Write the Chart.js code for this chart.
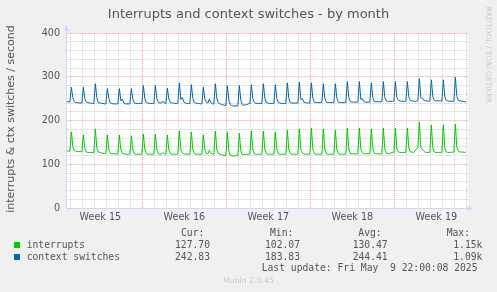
<!DOCTYPE html>
<html lang="en">
<head>
  <meta charset="UTF-8">
  <title>Interrupts and context switches - by month</title>
  <script src="https://cdn.jsdelivr.net/npm/chart.js"></script>
  <style>
    body { margin: 0; background: #f0f0f0; }
    #wrap { position: relative; width: 497px; height: 292px; background: #f0f0f0; overflow: hidden; }
    #wrap canvas { position: absolute; left: 0; top: 0; }
    .txt { position: absolute; white-space: pre; color: #555; font-family: 'DejaVu Sans', sans-serif; }
    .mono { font-family: 'DejaVu Sans Mono', monospace; font-size: 9.7px; line-height: 12px; }
    .box { position: absolute; width: 6px; height: 6px; }
  </style>
</head>
<body>
  <div id="wrap">
    <canvas id="chart" width="497" height="292"></canvas>
    <div class="txt" id="title" style="left:0; width:497px; text-align:center; top:5.6px; font-size:13px; line-height:16px;">Interrupts and context switches - by month</div>
    <div class="txt" id="ytitle" style="left:-139.2px; width:300px; top:112px; height:14px; text-align:center; font-size:11px; line-height:14px; transform:rotate(-90deg);">interrupts &amp; ctx switches / second</div>
    <div class="txt" id="rrd" style="left:338px; width:300px; top:50px; height:10px; text-align:center; font-size:7.5px; line-height:10px; color:#ccc; transform:rotate(90deg);">RRDTOOL / TOBI OETIKER</div>
    <div id="legend"></div>
    <div class="txt" style="left:0; width:497px; text-align:center; top:275.5px; font-size:7.8px; line-height:10px; color:#ccc;">Munin 2.0.45</div>
  </div>
  <script>
    // one row per day, 3-hourly samples (01:00 ... 22:00 style steps), spike around 02:00
    const interruptsRows = [
      [131, 130, 130, 174, 140, 131, 130, 129],
      [129, 129, 128, 167, 136, 128, 127, 127],
      [127, 127, 126, 181, 137, 128, 127, 126],
      [125, 125, 124, 167, 133, 125, 124, 124],
      [124, 124, 123, 167, 133, 125, 124, 123],
      [123, 123, 123, 165, 132, 124, 123, 123],
      [123, 123, 123, 169, 133, 124, 123, 123],
      [123, 123, 123, 169, 133, 124, 123, 123],
      [127, 124, 123, 167, 132, 124, 123, 123],
      [123, 123, 123, 176, 134, 126, 124, 123],
      [123, 123, 123, 174, 133, 124, 123, 123],
      [123, 123, 123, 167, 132, 124, 124, 132],
      [126, 123, 123, 176, 133, 124, 123, 122],
      [121, 120, 119, 174, 130, 121, 119, 119],
      [119, 120, 119, 171, 130, 122, 122, 122],
      [123, 123, 123, 176, 133, 124, 123, 123],
      [123, 123, 123, 176, 133, 124, 123, 123],
      [123, 123, 123, 174, 133, 124, 123, 123],
      [123, 123, 123, 178, 133, 124, 123, 123],
      [123, 123, 123, 181, 133, 126, 124, 123],
      [123, 123, 123, 183, 134, 124, 123, 123],
      [123, 123, 123, 181, 134, 124, 123, 123],
      [123, 123, 123, 178, 133, 124, 123, 123],
      [123, 123, 123, 183, 134, 124, 124, 124],
      [124, 124, 124, 183, 134, 126, 124, 124],
      [124, 124, 124, 181, 134, 125, 124, 124],
      [124, 124, 124, 183, 134, 125, 124, 124],
      [126, 127, 127, 183, 137, 128, 127, 127],
      [127, 127, 127, 183, 137, 128, 128, 127],
      [130, 134, 138, 197, 139, 134, 130, 127],
      [127, 127, 127, 190, 137, 128, 127, 127],
      [127, 127, 127, 190, 137, 128, 127, 127],
      [127, 128, 127, 192, 138, 130, 128, 128],
      [128, 127, 127.7]
    ];

    const ctxSwitchRows = [
      [244, 243, 242, 276, 252, 243, 241, 241],
      [240, 240, 240, 276, 250, 242, 241, 240],
      [240, 239, 239, 284, 252, 241, 240, 239],
      [239, 238, 238, 273, 250, 240, 239, 238],
      [238, 238, 238, 273, 245, 249, 240, 238],
      [238, 238, 238, 273, 249, 240, 239, 239],
      [239, 239, 239, 280, 250, 241, 240, 239],
      [239, 239, 239, 280, 251, 241, 240, 240],
      [244, 240, 239, 274, 249, 241, 240, 240],
      [239, 239, 239, 286, 248, 253, 242, 240],
      [239, 239, 239, 282, 250, 241, 240, 239],
      [239, 238, 238, 276, 249, 242, 240, 249],
      [241, 238, 238, 284, 250, 240, 238, 237],
      [236, 235, 234, 280, 246, 236, 234, 233],
      [233, 234, 233, 280, 246, 236, 235, 236],
      [236, 238, 239, 282, 250, 241, 239, 239],
      [239, 239, 239, 284, 251, 241, 240, 239],
      [239, 239, 239, 282, 250, 241, 240, 239],
      [239, 239, 239, 286, 250, 241, 240, 240],
      [240, 240, 240, 288, 248, 250, 242, 241],
      [240, 240, 240, 286, 251, 242, 241, 241],
      [241, 241, 241, 284, 251, 242, 241, 241],
      [241, 241, 241, 284, 251, 242, 241, 241],
      [241, 241, 241, 289, 252, 243, 242, 242],
      [242, 242, 242, 289, 248, 250, 243, 242],
      [242, 242, 242, 286, 252, 243, 243, 243],
      [243, 243, 243, 289, 252, 245, 244, 244],
      [244, 244, 244, 289, 253, 246, 245, 244],
      [244, 244, 244, 289, 253, 246, 245, 244],
      [244, 244, 245, 296, 252, 251, 246, 245],
      [245, 244, 244, 293, 254, 246, 245, 245],
      [245, 245, 244, 293, 254, 246, 245, 244],
      [244, 244, 244, 299, 255, 246, 245, 244],
      [244, 243, 242.83]
    ];

    // time axis in hours, 0 = start of week 15
    const firstSampleHour = 17;
    const sampleStepHours = 3;
    const xMinHour = 16.3;
    const xMaxHour = 818.3;

    const weekLabels = ['Week 15', 'Week 16', 'Week 17', 'Week 18', 'Week 19'];
    const weekCenters = [84, 252, 420, 588, 756];
    const yTicks = [0, 100, 200, 300, 400];

    const seriesNames = ['interrupts', 'context switches'];
    const seriesColors = ['#00cc00', '#0066b3'];
    const curValues = ['127.70', '242.83'];
    const minValues = ['102.07', '183.83'];
    const avgValues = ['130.47', '244.41'];
    const maxValues = ['1.15k', '1.09k'];
    const lastUpdate = 'Last update: Fri May  9 22:00:08 2025';

    function toPoints(rows) {
      return rows.flat().map((v, i) => ({ x: firstSampleHour + i * sampleStepHours, y: v }));
    }

    // legend table under the graph
    const legend = document.getElementById('legend');
    function addText(txt, left, top) {
      const d = document.createElement('div');
      d.className = 'txt mono';
      d.style.left = left + 'px';
      d.style.top = top + 'px';
      d.textContent = txt;
      legend.appendChild(d);
    }
    addText('Cur:', 181, 226.6);
    addText('Min:', 270, 226.6);
    addText('Avg:', 358.3, 226.6);
    addText('Max:', 446.7, 226.6);
    seriesNames.forEach((name, i) => {
      const top = 239 + i * 12.3;
      const b = document.createElement('div');
      b.className = 'box';
      b.style.left = '14px';
      b.style.top = (top + 3) + 'px';
      b.style.background = seriesColors[i];
      legend.appendChild(b);
      addText(name, 26.7, top);
      addText(curValues[i], 175, top);
      addText(minValues[i], 265, top);
      addText(avgValues[i], 352.7, top);
      addText(maxValues[i].padStart(6, ' '), 447.4, top);
    });
    addText(lastUpdate, 261.7, 262);

    const muninGrid = {
      id: 'muninGrid',
      beforeDraw(chart) {
        const { ctx, chartArea: a } = chart;
        ctx.save();
        ctx.fillStyle = '#ffffff';
        ctx.fillRect(a.left, a.top, a.right - a.left, a.bottom - a.top);
        ctx.restore();
      },
      beforeDatasetsDraw(chart) {
        const { ctx, chartArea: a, scales: { x, y } } = chart;
        ctx.save();
        ctx.lineWidth = 1;
        ctx.setLineDash([1, 1]);
        for (let h = Math.ceil(xMinHour / 24) * 24; h <= xMaxHour; h += 24) {
          const px = Math.floor(x.getPixelForValue(h)) + 0.5;
          ctx.strokeStyle = h % 168 === 0 ? 'rgba(235,120,120,0.75)' : 'rgba(190,190,190,0.75)';
          ctx.beginPath();
          ctx.moveTo(px, a.top);
          ctx.lineTo(px, a.bottom);
          ctx.stroke();
        }
        for (let v = 20; v <= 400; v += 20) {
          const py = Math.floor(y.getPixelForValue(v)) + 0.5;
          ctx.strokeStyle = v % 100 === 0 ? 'rgba(235,120,120,0.75)' : 'rgba(190,190,190,0.75)';
          ctx.beginPath();
          ctx.moveTo(a.left, py);
          ctx.lineTo(a.right + 1, py);
          ctx.stroke();
        }
        ctx.restore();
      },
      afterDatasetsDraw(chart) {
        const { ctx, chartArea: a } = chart;
        const ax = Math.floor(a.left) + 0.5;
        const ay = Math.floor(a.bottom) + 0.5;
        ctx.save();
        ctx.strokeStyle = '#cfd6f8';
        ctx.fillStyle = '#cfd6f8';
        ctx.lineWidth = 1;
        ctx.beginPath();
        ctx.moveTo(ax, ay);
        ctx.lineTo(ax, a.top - 4);
        ctx.moveTo(ax, ay);
        ctx.lineTo(a.right + 2, ay);
        ctx.stroke();
        ctx.beginPath();
        ctx.moveTo(ax, a.top - 8);
        ctx.lineTo(ax - 2.5, a.top - 2);
        ctx.lineTo(ax + 2.5, a.top - 2);
        ctx.closePath();
        ctx.fill();
        ctx.beginPath();
        ctx.moveTo(a.right + 6, ay);
        ctx.lineTo(a.right, ay - 2.5);
        ctx.lineTo(a.right, ay + 2.5);
        ctx.closePath();
        ctx.fill();
        ctx.restore();
      }
    };

    new Chart(document.getElementById('chart').getContext('2d'), {
      type: 'line',
      data: {
        datasets: [
          {
            label: seriesNames[0],
            data: toPoints(interruptsRows),
            borderColor: seriesColors[0],
            borderWidth: 1,
            pointRadius: 0,
            tension: 0,
            fill: false
          },
          {
            label: seriesNames[1],
            data: toPoints(ctxSwitchRows),
            borderColor: seriesColors[1],
            borderWidth: 1,
            pointRadius: 0,
            tension: 0,
            fill: false
          }
        ]
      },
      options: {
        responsive: false,
        animation: false,
        events: [],
        devicePixelRatio: 1,
        layout: { padding: { top: 33, right: 29.5, bottom: 60, left: 0 } },
        plugins: {
          legend: { display: false },
          tooltip: { enabled: false }
        },
        scales: {
          x: {
            type: 'linear',
            min: xMinHour,
            max: xMaxHour,
            grid: { display: false, drawTicks: false },
            border: { display: false },
            afterBuildTicks: scale => { scale.ticks = weekCenters.map(v => ({ value: v })); },
            afterFit: scale => { scale.height = 24; },
            ticks: {
              autoSkip: false,
              maxRotation: 0,
              padding: 4,
              color: '#555',
              font: { family: 'DejaVu Sans', size: 9.6 },
              callback: (value, index) => weekLabels[index]
            }
          },
          y: {
            min: 0,
            max: 400,
            grid: { display: false, drawTicks: false },
            border: { display: false },
            afterBuildTicks: scale => { scale.ticks = yTicks.map(v => ({ value: v })); },
            afterFit: scale => { scale.width = 66.5; },
            ticks: {
              padding: 6.5,
              color: '#555',
              font: { family: 'DejaVu Sans', size: 9.6 }
            }
          }
        }
      },
      plugins: [muninGrid]
    });
  </script>
</body>
</html>
